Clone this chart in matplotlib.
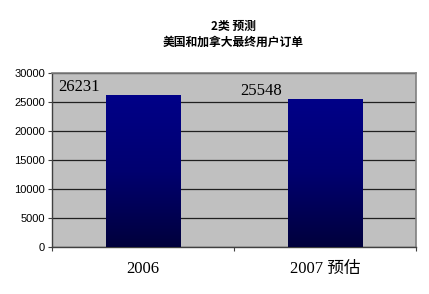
import numpy as np
import matplotlib
matplotlib.use('Agg')
from matplotlib import pyplot as plt

categories = ['2006', '2007 预估']
orders = [26231, 25548]
yticks = [0, 5000, 10000, 15000, 20000, 25000, 30000]
title = '2类 预测\n美国和加拿大最终用户订单'

plt.rcParams['font.family'] = ['Liberation Sans', 'Noto Sans CJK SC']

fig = plt.figure(figsize=(4.29, 2.94), dpi=100)
ax = fig.add_axes([0.1212, 0.1599, 0.8485, 0.5918])
ax.set_facecolor('#c0c0c0')

x = np.arange(len(categories))
bars = ax.bar(x, orders, width=0.41, color='#000080', edgecolor='#1c1c9c', lw=0.6, zorder=3)

# vertical navy gradient, darker at the bottom
grad = np.linspace(0, 1, 256).reshape(-1, 1)
cmap = matplotlib.colors.LinearSegmentedColormap.from_list('nv', ['#00003c', '#000070', '#000088'])
for b in bars:
    im = ax.imshow(grad, extent=[b.get_x(), b.get_x() + b.get_width(), 0, b.get_height()],
                   origin='lower', aspect='auto', cmap=cmap, zorder=3.5)
    im.set_clip_path(b)

for b, v in zip(bars, orders):
    ax.annotate(str(v), (b.get_x() + b.get_width() / 2, v), xytext=(-46, 0),
                textcoords='offset points', ha='center', va='bottom',
                fontsize=12, family=['Liberation Serif'], zorder=5)

ax.set_xlim(-0.5, 1.5)
ax.set_ylim(0, 30000)
ax.set_yticks(yticks)
ax.set_yticklabels([str(t) for t in yticks], fontsize=8)
ax.yaxis.grid(True, color='#202020', lw=0.9, zorder=1)
ax.set_axisbelow(True)

ax.set_xticks([-0.5, 0.5, 1.5])
ax.set_xticklabels([])
ax.set_xticks(x, minor=True)
ax.set_xticklabels(categories, minor=True, fontsize=12,
                   family=['Liberation Serif', 'Noto Sans CJK SC'])
ax.tick_params(axis='x', which='minor', length=0, pad=10)
ax.tick_params(axis='x', which='major', length=3, color='#404040')
ax.tick_params(axis='y', length=3, pad=2, color='#404040')

for s in ['top', 'right']:
    ax.spines[s].set_color('#808080')
    ax.spines[s].set_linewidth(1.2)
for s in ['left', 'bottom']:
    ax.spines[s].set_color('#404040')
    ax.spines[s].set_linewidth(1.0)

fig.text(0.543, 0.883, title, ha='center', va='center', fontsize=8.5,
         fontweight='bold', family=['Noto Sans CJK SC'], linespacing=1.3)

fig.savefig('out.png', dpi=100)
